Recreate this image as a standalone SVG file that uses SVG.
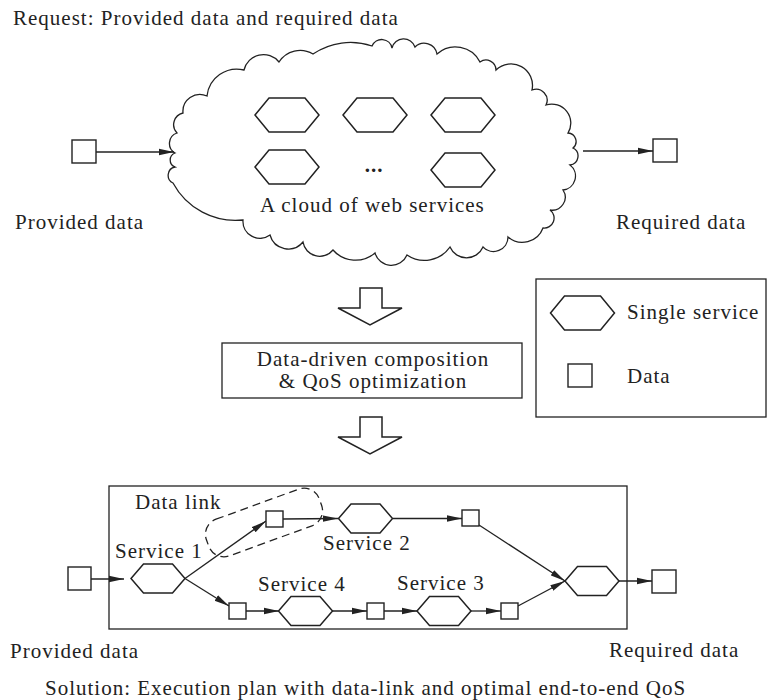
<svg xmlns="http://www.w3.org/2000/svg" width="779" height="700" viewBox="0 0 779 700">
<style>
.t{font-family:'Liberation Serif','Times New Roman',serif;font-size:21px;letter-spacing:1px;fill:#222}
.ln{stroke:#222;stroke-width:1.3;fill:none}
.arr{stroke:#222;stroke-width:1.3;fill:none;marker-end:url(#ah)}
.shp{stroke:#222;stroke-width:1.5;fill:#fff}
.sq{stroke:#222;stroke-width:1.4;fill:#fff}
</style>
<defs>
<marker id="ah" markerWidth="15" markerHeight="8" refX="15" refY="4" orient="auto" markerUnits="userSpaceOnUse"><path d="M0,0.8 L15,4 L0,7.2 z" fill="#222"/></marker>
<polygon id="hexL" points="-32,0 -18,-17 18,-17 32,0 18,17 -18,17"/>
<polygon id="hexS" points="-27,0 -14.5,-14.5 14.5,-14.5 27,0 14.5,14.5 -14.5,14.5"/>
</defs>
<rect width="779" height="700" fill="#fff"/>

<text class="t" x="13" y="25">Request: Provided data and required data</text>

<g id="cloud">
<path class="ln" stroke-width="1.6" d="M175,153 A11,11 0 0,1 177,133 A12,12 0 0,1 183,113 A17,17 0 0,1 207,96 A30,30 0 0,1 244,70 A20,20 0 0,1 279,62 A25,25 0 0,1 313,54 A67,67 0 0,1 372,46 A10.5,10.5 0 0,1 392,48 A12,12 0 0,1 415,47 A13,13 0 0,1 437,54 A27.5,27.5 0 0,1 480,62 A10,10 0 0,1 496,70 A21.5,21.5 0 0,1 532,90 A11,11 0 0,1 546,105 A19,19 0 0,1 568,133 A8.5,8.5 0 0,1 573,148 A9,9 0 0,1 570,165 A14,14 0 0,1 563,190 A13,13 0 0,1 550,210 A10,10 0 0,1 543,228 A22,22 0 0,1 508,237 A14.5,14.5 0 0,1 483,247 A18,18 0 0,1 450,247 A31,31 0 0,1 407,255 A17,17 0 0,1 375,253 A30,30 0 0,1 333,250 A17,17 0 0,1 303,242 A19,19 0 0,1 270,235 A17,17 0 0,1 243,220 A71,71 0 0,1 173,183 A8.5,8.5 0 0,1 175,167 A7.5,7.5 0 0,1 175,153 Z"/>
<use href="#hexL" class="shp" x="287" y="115"/>
<use href="#hexL" class="shp" x="375" y="115"/>
<use href="#hexL" class="shp" x="463" y="115"/>
<use href="#hexL" class="shp" x="287" y="167"/>
<use href="#hexL" class="shp" x="463" y="170"/>
<text class="t" x="374" y="172" text-anchor="middle" font-weight="bold">...</text>
<text class="t" x="260" y="212">A cloud of web services</text>
</g>

<g id="provided-top">
<rect class="sq" x="72" y="140" width="24" height="23"/>
<text class="t" x="15" y="229">Provided data</text>
</g>
<g id="required-top">
<rect class="sq" x="653" y="139" width="24" height="23"/>
<text class="t" x="616" y="229">Required data</text>
</g>

<g id="down-arrow-1"><polygon class="shp" stroke-width="1.3" points="360,288 382,288 382,308 402,308 370,325 338,308 360,308"/></g>
<g id="process">
<rect class="ln" x="222" y="343" width="300" height="55"/>
<text class="t" x="373" y="366" text-anchor="middle">Data-driven composition</text>
<text class="t" x="373" y="388" text-anchor="middle">&amp; QoS optimization</text>
</g>
<g id="down-arrow-2"><polygon class="shp" stroke-width="1.3" points="360,417 382,417 382,437 402,437 370,454 338,437 360,437"/></g>

<g id="legend">
<rect class="ln" x="536" y="279" width="230" height="138"/>
<use href="#hexL" class="shp" x="582.5" y="313"/>
<text class="t" x="627" y="319">Single service</text>
<rect class="sq" x="568" y="364" width="24" height="23"/>
<text class="t" x="627" y="383">Data</text>
</g>

<g id="plan">
<rect class="ln" x="109" y="486" width="518" height="143"/>
<rect class="ln" stroke-dasharray="8,5" x="-60" y="-19.5" width="120" height="39" rx="16" transform="translate(264,522.5) rotate(-20)"/>
<text class="t" x="135" y="509">Data link</text>
</g>

<g id="connectors">
<line class="arr" x1="96" y1="152" x2="174" y2="152"/>
<line class="arr" x1="583" y1="151" x2="653" y2="151"/>
<line class="arr" x1="91" y1="579" x2="124" y2="579"/>
<line class="arr" x1="185" y1="578.5" x2="266" y2="521"/>
<line class="arr" x1="185" y1="578.5" x2="229" y2="606"/>
<line class="arr" x1="283" y1="519" x2="338" y2="518.5"/>
<line class="arr" x1="393" y1="518.5" x2="462" y2="518.5"/>
<line class="arr" x1="479" y1="525" x2="565" y2="581"/>
<line class="arr" x1="245" y1="611" x2="279" y2="611"/>
<line class="arr" x1="332" y1="611" x2="367" y2="611"/>
<line class="arr" x1="384" y1="611" x2="417" y2="611"/>
<line class="arr" x1="471" y1="611" x2="501" y2="611"/>
<line class="arr" x1="518" y1="606" x2="565" y2="581"/>
<line class="arr" x1="619" y1="581" x2="652" y2="581"/>
</g>

<g id="provided-bottom">
<rect class="sq" x="68" y="567" width="23" height="23"/>
<text class="t" x="10" y="658">Provided data</text>
</g>
<g id="service1">
<use href="#hexS" class="shp" x="158" y="578.5"/>
<text class="t" x="115" y="558">Service 1</text>
</g>
<g id="data-a"><rect class="sq" x="266" y="511" width="17" height="16"/></g>
<g id="service2">
<use href="#hexS" class="shp" x="365.5" y="518.5"/>
<text class="t" x="323" y="550">Service 2</text>
</g>
<g id="data-b"><rect class="sq" x="462" y="510" width="17" height="16"/></g>
<g id="data-c"><rect class="sq" x="229" y="603" width="17" height="16"/></g>
<g id="service4">
<use href="#hexS" class="shp" x="305.5" y="611"/>
<text class="t" x="258" y="591">Service 4</text>
</g>
<g id="data-d"><rect class="sq" x="367" y="603" width="17" height="16"/></g>
<g id="service3">
<use href="#hexS" class="shp" x="444" y="611"/>
<text class="t" x="397" y="590">Service 3</text>
</g>
<g id="data-e"><rect class="sq" x="501" y="603" width="17" height="16"/></g>
<g id="final-service"><use href="#hexS" class="shp" x="592" y="581"/></g>
<g id="required-bottom">
<rect class="sq" x="652" y="570" width="24" height="23"/>
<text class="t" x="609" y="657">Required data</text>
</g>

<text class="t" x="45" y="695">Solution: Execution plan with data-link and optimal end-to-end QoS</text>
</svg>
